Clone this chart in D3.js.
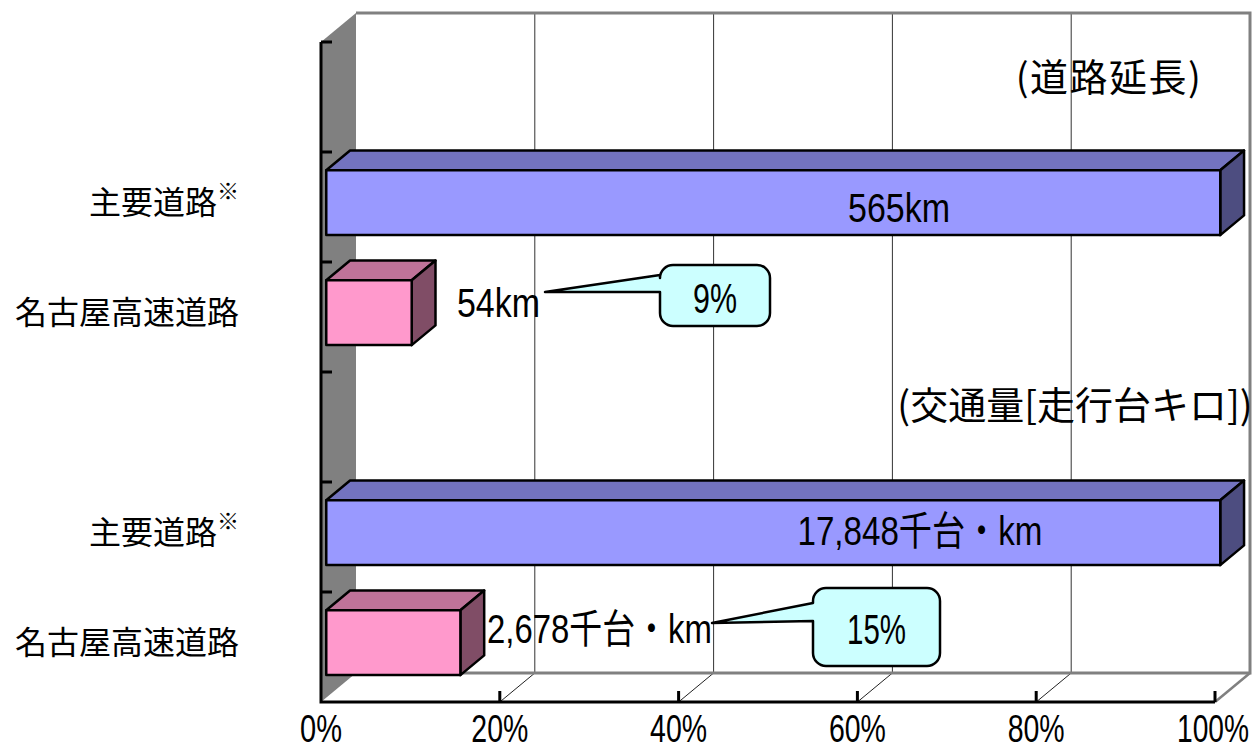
<!DOCTYPE html>
<html>
<head>
<meta charset="utf-8">
<script src="https://cdn.jsdelivr.net/npm/d3@7"></script>
<style>
  body { margin: 0; background: #fff; }
  svg { display: block; }
  .cjk { font-family: "Noto Sans CJK JP", sans-serif; }
  .num { font-family: "Liberation Sans Narrow", "Arial Narrow", "Liberation Sans", "Noto Sans CJK JP", sans-serif; }
</style>
</head>
<body>
<div id="chart"></div>
<script>
// slots on the category axis (top to bottom), two of them hold only a heading
const slots = ["lenHead", "lenMain", "lenNagoya", "volHead", "volMain", "volNagoya"];
const headings = ["(道路延長)", "(交通量[走行台キロ])"];
const roadNames = ["主要道路", "名古屋高速道路"];

// raw values
const lengthKm = [565, 54];
const trafficK = [17848, 2678];
const valueLabels = ["565km", "54km", "17,848千台・km", "2,678千台・km"];
const shareLabels = ["9%", "15%"];
const xTicks = [0, 20, 40, 60, 80, 100];

const width = 1257;
const height = 750;

const x = d3.scaleLinear().domain([0, 100]).range([321, 1215]);
const y = d3.scaleBand()
  .domain(slots)
  .range([42, 702])
  .paddingInner(0.41)
  .paddingOuter(0.205);

// 3d depth of the plot box and where the bars sit in it
const depth = { dx: 35, dy: -29 };
const barFront = { dx: depth.dx * 0.15, dy: depth.dy * 0.15 };
const barDepth = { dx: depth.dx * 0.68, dy: depth.dy * 0.68 };

const palette = {
  main: { front: "#9999ff", top: "#7373bf", side: "#4d4d80" },
  nagoya: { front: "#ff99cc", top: "#bf7399", side: "#804d66" }
};

// bars: share of the main road value
const bars = [
  { slot: "lenMain", value: 100, kind: "main", label: valueLabels[0] },
  { slot: "lenNagoya", value: (lengthKm[1] / lengthKm[0]) * 100, kind: "nagoya", label: valueLabels[1] },
  { slot: "volMain", value: 100, kind: "main", label: valueLabels[2] },
  { slot: "volNagoya", value: (trafficK[1] / trafficK[0]) * 100, kind: "nagoya", label: valueLabels[3] }
];

// narrow look of the percent labels
const pctWidth = (s) => s.replace("%", "").length * 15 + 27;

const svg = d3.select("#chart")
  .append("svg")
  .attr("width", width)
  .attr("height", height);

// draws text squeezed horizontally to a given width (the source font is condensed)
function narrowText(parent, str, px, py, w, size, anchor) {
  const g = parent.append("g");
  const t = g.append("text")
    .attr("class", "num")
    .attr("font-size", size)
    .text(str);
  const natural = t.node().getComputedTextLength();
  const sx = Math.min(1, w / natural);
  const shift = anchor === "middle" ? -natural / 2 : anchor === "end" ? -natural : 0;
  t.attr("x", shift);
  g.attr("transform", `translate(${px},${py}) scale(${sx},1)`);
  return g;
}

const x0 = x(0), x1 = x(100);
const yTop = y.range()[0], yBot = y.range()[1];

// left wall
svg.append("path")
  .attr("d", d3.line()([
    [x0, yTop], [x0 + depth.dx, yTop + depth.dy],
    [x0 + depth.dx, yBot + depth.dy], [x0, yBot]
  ]) + "Z")
  .attr("fill", "#808080");

// back wall gridlines
svg.append("g")
  .selectAll("line")
  .data(xTicks.slice(1, -1))
  .join("line")
  .attr("x1", (d) => x(d) + depth.dx)
  .attr("x2", (d) => x(d) + depth.dx)
  .attr("y1", yTop + depth.dy)
  .attr("y2", yBot + depth.dy)
  .attr("stroke", "#333")
  .attr("stroke-width", 1);

// floor lines from the front ticks to the back wall
svg.append("g")
  .selectAll("line")
  .data(xTicks.slice(1, -1))
  .join("line")
  .attr("x1", (d) => x(d))
  .attr("y1", yBot)
  .attr("x2", (d) => x(d) + depth.dx)
  .attr("y2", yBot + depth.dy)
  .attr("stroke", "#222")
  .attr("stroke-width", 1);

// back wall frame (gray)
svg.append("path")
  .attr("d", d3.line()([
    [x0 + depth.dx, yTop + depth.dy],
    [x1 + depth.dx, yTop + depth.dy],
    [x1 + depth.dx, yBot + depth.dy],
    [x0 + depth.dx, yBot + depth.dy]
  ]))
  .attr("fill", "none")
  .attr("stroke", "#808080")
  .attr("stroke-width", 3);
svg.append("line")
  .attr("x1", x1).attr("y1", yBot)
  .attr("x2", x1 + depth.dx).attr("y2", yBot + depth.dy)
  .attr("stroke", "#808080")
  .attr("stroke-width", 2.5);

// front axes
svg.append("path")
  .attr("d", d3.line()([[x0, yTop], [x0, yBot], [x1, yBot]]))
  .attr("fill", "none")
  .attr("stroke", "#000")
  .attr("stroke-width", 3);

// category ticks (band boundaries)
svg.append("g")
  .selectAll("line")
  .data(slots)
  .join("line")
  .attr("x1", x0)
  .attr("x2", x0 + 11)
  .attr("y1", (d) => y(d) - y.step() * y.paddingInner() / 2)
  .attr("y2", (d) => y(d) - y.step() * y.paddingInner() / 2)
  .attr("stroke", "#000")
  .attr("stroke-width", 3);

// value axis ticks and labels
const xAxis = svg.append("g");
xAxis.selectAll("line")
  .data(xTicks.slice(1))
  .join("line")
  .attr("x1", (d) => x(d))
  .attr("x2", (d) => x(d))
  .attr("y1", yBot)
  .attr("y2", yBot - 11)
  .attr("stroke", "#000")
  .attr("stroke-width", 3);
xTicks.forEach((d) => {
  const s = d + "%";
  const w = pctWidth(s);
  const px = d === 100 ? x(d) + w / 2 - 2 : x(d);
  narrowText(xAxis, s, px, 742, w, 39, d === 100 ? "end" : "middle");
});

// bars
const face = (pts) => d3.line()(pts) + "Z";
const barG = svg.append("g")
  .selectAll("g")
  .data(bars)
  .join("g");

barG.each(function (d) {
  const g = d3.select(this);
  const c = palette[d.kind];
  const bx0 = x(0) + barFront.dx;
  const bx1 = x(d.value) + barFront.dx;
  const by0 = y(d.slot) + barFront.dy;
  const by1 = by0 + y.bandwidth();
  g.append("path")
    .attr("d", face([[bx0, by0], [bx0 + barDepth.dx, by0 + barDepth.dy], [bx1 + barDepth.dx, by0 + barDepth.dy], [bx1, by0]]))
    .attr("fill", c.top);
  g.append("path")
    .attr("d", face([[bx1, by0], [bx1 + barDepth.dx, by0 + barDepth.dy], [bx1 + barDepth.dx, by1 + barDepth.dy], [bx1, by1]]))
    .attr("fill", c.side);
  g.append("rect")
    .attr("x", bx0)
    .attr("y", by0)
    .attr("width", bx1 - bx0)
    .attr("height", by1 - by0)
    .attr("fill", c.front);
  g.selectAll("path, rect")
    .attr("stroke", "#000")
    .attr("stroke-width", 2.5)
    .attr("stroke-linejoin", "round");
});

// category labels
const catLabels = [
  { slot: "lenMain", name: roadNames[0], note: true },
  { slot: "lenNagoya", name: roadNames[1], note: false },
  { slot: "volMain", name: roadNames[0], note: true },
  { slot: "volNagoya", name: roadNames[1], note: false }
];
const catText = svg.append("g")
  .selectAll("text")
  .data(catLabels)
  .join("text")
  .attr("class", "cjk")
  .attr("x", 239)
  .attr("y", (d) => y(d.slot) + barFront.dy + y.bandwidth() / 2 - 3)
  .attr("dominant-baseline", "central")
  .attr("text-anchor", "end")
  .attr("font-size", 32);
catText.append("tspan").text((d) => d.name);
catText.filter((d) => d.note)
  .append("tspan")
  .attr("font-size", 22)
  .attr("dy", -11)
  .text("※");

// headings inside the plot
svg.append("text")
  .attr("class", "cjk")
  .attr("x", 1109)
  .attr("y", 91)
  .attr("text-anchor", "middle")
  .attr("font-size", 38)
  .attr("letter-spacing", 1.5)
  .text(headings[0]);
svg.append("text")
  .attr("class", "cjk")
  .attr("x", 1075)
  .attr("y", 419)
  .attr("text-anchor", "middle")
  .attr("font-size", 38)
  .text(headings[1]);

// value labels
const labelPos = {
  lenMain: { x: 899, y: 222, anchor: "middle", w: 102 },
  lenNagoya: { x: 457, y: 317, anchor: "start", w: 83 },
  volMain: { x: 920, y: 545, anchor: "middle", w: 245 },
  volNagoya: { x: 487, y: 643, anchor: "start", w: 225 }
};
const valueG = svg.append("g");
bars.forEach((d) => {
  const p = labelPos[d.slot];
  narrowText(valueG, d.label, p.x, p.y, p.w, 40, p.anchor);
});

// callouts for the share of Nagoya expressway
const callouts = [
  { text: shareLabels[0], tip: [545, 292], box: { x: 660, y: 265, w: 110, h: 61 }, attach: [275, 292], base: 313 },
  { text: shareLabels[1], tip: [712, 623], box: { x: 813, y: 588, w: 127, h: 78 }, attach: [603, 621], base: 644 }
];
function calloutPath(c) {
  const { x: bx, y: by, w, h } = c.box;
  const r = 13;
  const p = d3.path();
  p.moveTo(c.tip[0], c.tip[1]);
  p.lineTo(bx, c.attach[0]);
  p.lineTo(bx, by + r);
  p.arcTo(bx, by, bx + r, by, r);
  p.lineTo(bx + w - r, by);
  p.arcTo(bx + w, by, bx + w, by + r, r);
  p.lineTo(bx + w, by + h - r);
  p.arcTo(bx + w, by + h, bx + w - r, by + h, r);
  p.lineTo(bx + r, by + h);
  p.arcTo(bx, by + h, bx, by + h - r, r);
  p.lineTo(bx, c.attach[1]);
  p.closePath();
  return p.toString();
}
const co = svg.append("g");
callouts.forEach((c) => {
  co.append("path")
    .attr("d", calloutPath(c))
    .attr("fill", "#ccffff")
    .attr("stroke", "#000")
    .attr("stroke-width", 2.5)
    .attr("stroke-linejoin", "round");
  narrowText(co, c.text, c.box.x + c.box.w / 2, c.base, pctWidth(c.text) + 2, 43, "middle");
});
</script>
</body>
</html>
